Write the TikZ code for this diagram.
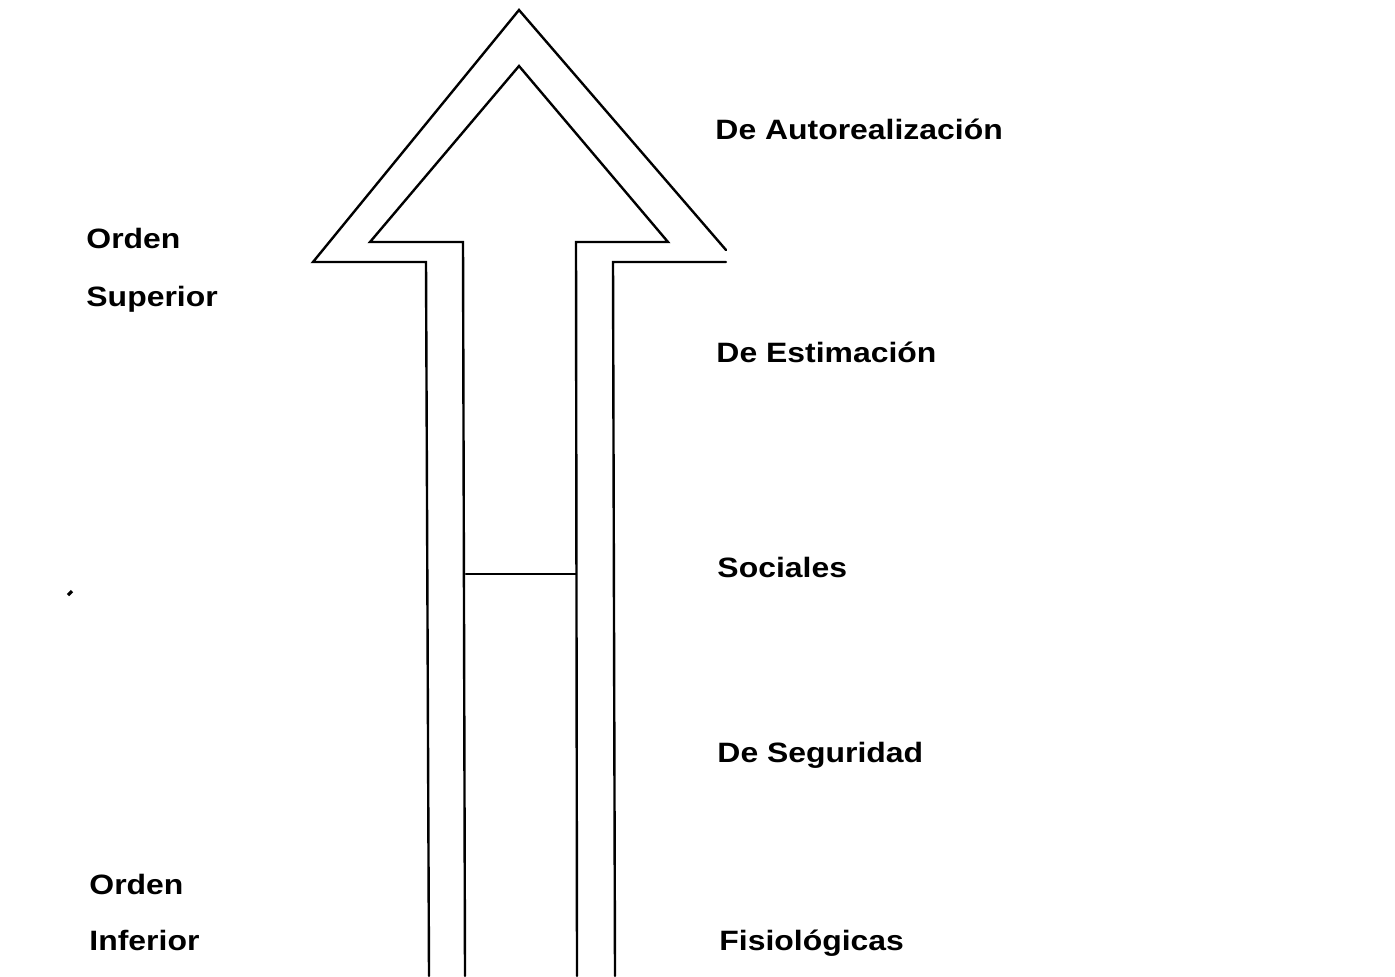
\documentclass[tikz,border=0pt]{standalone}
\usepackage{fontspec}
\setmainfont{Liberation Sans}
\begin{document}
\begin{tikzpicture}[x=0.5pt,y=-0.5pt,
  outline/.style={draw=black,line width=1.2pt,line cap=round,line join=miter},
  label/.style={anchor=base west,inner sep=0pt,font=\fontsize{14}{16}\selectfont\bfseries,xscale=1.14}]
\useasboundingbox[fill=white] (0,0) rectangle (1395,976);

% outer contour of the arrow
\coordinate (oApex) at (519,10);
\coordinate (oL)    at (313,262);
\coordinate (oLi)   at (426,262);
\coordinate (oLb)   at (429,976);
\coordinate (oR)    at (726,250);
\coordinate (oRh)   at (726,262);
\coordinate (oRi)   at (613,262);
\coordinate (oRb)   at (615,976);
\draw[outline] (oLb) -- (oLi) -- (oL) -- (oApex) -- (oR);
\draw[outline] (oRb) -- (oRi) -- (oRh);

% inner contour of the arrow
\coordinate (iApex) at (519,66);
\coordinate (iL)    at (370,242);
\coordinate (iLi)   at (463,242);
\coordinate (iLb)   at (465,976);
\coordinate (iR)    at (668,242);
\coordinate (iRi)   at (576,242);
\coordinate (iRb)   at (577,976);
\draw[outline] (iLb) -- (iLi) -- (iL) -- (iApex) -- (iR) -- (iRi) -- (iRb);

% dividing bar inside the shaft
\coordinate (barL) at (466,574);
\coordinate (barR) at (576,574);
\draw[outline] (barL) -- (barR);

% stray mark
\draw[line width=1.6pt] (68,595) -- (72,591);

% needs levels
\node[label] (n1) at (715,139) {De Autorealización};
\node[label] (n2) at (716,362) {De Estimación};
\node[label] (n3) at (717,577) {Sociales};
\node[label] (n4) at (717,762) {De Seguridad};
\node[label] (n5) at (719,950) {Fisiológicas};

% order labels
\node[label] (s1) at (86,248) {Orden};
\node[label] (s2) at (86,306) {Superior};
\node[label] (f1) at (89,894) {Orden};
\node[label] (f2) at (89,950) {Inferior};
\end{tikzpicture}
\end{document}
